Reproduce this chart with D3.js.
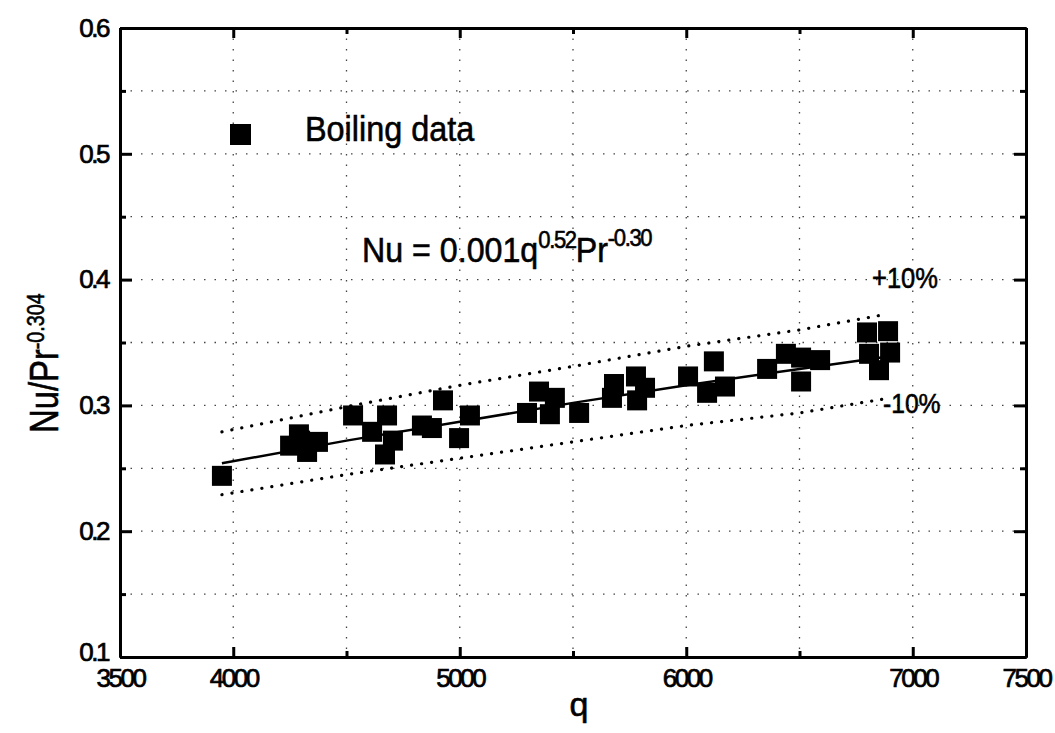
<!DOCTYPE html>
<meta charset="utf-8" />
<style>
  body { margin: 0; background: #fff; }
  text { font-family: "Liberation Sans", Arial, sans-serif; fill: #000; stroke: #000; stroke-width: 0.6px; }
  .tick text { font-size: 26px; letter-spacing: -2.5px; stroke-width: 0.7px; }
  .grid line { stroke: #444; stroke-width: 1.3; stroke-dasharray: 1.5 9; }
  .domain { stroke-width: 3; }
  .tick line { stroke-width: 3; }
</style>
<svg width="1055" height="733"></svg>
<script src="https://d3js.org/d3.v7.min.js"></script>
<script>
  // boiling data
  var qData = [3950, 4251, 4290, 4326, 4374, 4295, 4529, 4613, 4679, 4670,
    4705, 4833, 4926, 4877, 4997, 5045, 5297, 5350, 5398, 5420,
    5527, 5672, 5681, 5783, 5778, 5818, 6008, 6092, 6122, 6171,
    6357, 6440, 6507, 6507, 6591, 6798, 6891, 6807, 6851, 6900];
  var nuData = [0.244, 0.268, 0.277, 0.263, 0.271, 0.272, 0.292, 0.279, 0.292, 0.261,
    0.272, 0.284, 0.304, 0.282, 0.274, 0.292, 0.294, 0.311, 0.293, 0.306,
    0.294, 0.306, 0.317, 0.304, 0.323, 0.314, 0.323, 0.310, 0.335, 0.315,
    0.329, 0.341, 0.338, 0.319, 0.336, 0.358, 0.359, 0.341, 0.328, 0.342];

  // correlation line and the +/-10% band
  var fitQ = [3950, 4500, 5000, 5500, 6000, 6500, 6900];
  var fitV = [0.254, 0.272, 0.287, 0.302, 0.316, 0.329, 0.339];
  var bandQ = [3950, 4500, 5000, 5500, 6000, 6500, 6870];
  var upperV = [0.279, 0.299, 0.316, 0.331, 0.347, 0.360, 0.372];
  var lowerV = [0.229, 0.245, 0.258, 0.271, 0.284, 0.294, 0.305];

  var xMajor = [3500, 4000, 5000, 6000, 7000, 7500];
  var xMinor = [4500, 5500, 6500];
  var xGrid = [4000, 4500, 5000, 5500, 6000, 6500, 7000];
  var yMajor = [0.1, 0.2, 0.3, 0.4, 0.5, 0.6];
  var yMinor = [0.15, 0.25, 0.35, 0.45, 0.55];
  var yGrid = [0.15, 0.2, 0.25, 0.3, 0.35, 0.4, 0.45, 0.5, 0.55];

  var svg = d3.select("svg");
  var pl = 120, pr = 1026, pt = 28, pb = 657;

  var x = d3.scaleLinear().domain([3500, 7500]).range([pl, pr]);
  var y = d3.scaleLinear().domain([0.1, 0.6]).range([pb, pt]);

  // dotted grid
  var grid = svg.append("g").attr("class", "grid");
  grid.selectAll(".h").data(yGrid).join("line").attr("class", "h")
    .attr("x1", pl).attr("x2", pr)
    .attr("y1", d => y(d)).attr("y2", d => y(d));
  grid.selectAll(".v").data(xGrid).join("line").attr("class", "v")
    .attr("y1", pt).attr("y2", pb)
    .attr("x1", d => x(d)).attr("x2", d => x(d));

  // axes, ticks pointing in
  svg.append("g").attr("transform", "translate(0," + pb + ")")
    .call(d3.axisBottom(x).tickValues(xMajor).tickSize(-10).tickSizeOuter(0)
      .tickPadding(12).tickFormat(d3.format("d")));
  svg.append("g").attr("transform", "translate(0," + pb + ")")
    .call(d3.axisBottom(x).tickValues(xMinor).tickSize(-6).tickSizeOuter(0).tickFormat(""));
  svg.append("g").attr("transform", "translate(0," + pt + ")")
    .call(d3.axisTop(x).tickValues(xMajor).tickSize(-10).tickSizeOuter(0).tickFormat(""));
  svg.append("g").attr("transform", "translate(0," + pt + ")")
    .call(d3.axisTop(x).tickValues(xMinor).tickSize(-6).tickSizeOuter(0).tickFormat(""));
  var yAx = svg.append("g").attr("transform", "translate(" + pl + ",0)")
    .call(d3.axisLeft(y).tickValues(yMajor).tickSize(-12).tickSizeOuter(0)
      .tickPadding(12).tickFormat(d3.format(".1f")));
  // lowest label sits a little higher, clear of 3500
  yAx.selectAll(".tick text").filter(d => d === 0.1).attr("y", -5);
  svg.append("g").attr("transform", "translate(" + pl + ",0)")
    .call(d3.axisLeft(y).tickValues(yMinor).tickSize(-6).tickSizeOuter(0).tickFormat(""));
  svg.append("g").attr("transform", "translate(" + pr + ",0)")
    .call(d3.axisRight(y).tickValues(yMajor).tickSize(-12).tickSizeOuter(0).tickFormat(""));
  svg.append("g").attr("transform", "translate(" + pr + ",0)")
    .call(d3.axisRight(y).tickValues(yMinor).tickSize(-6).tickSizeOuter(0).tickFormat(""));
  svg.selectAll(".domain").attr("stroke-width", 3);

  // band and fit line
  var bandLine = d3.line().x(d => x(d[0])).y(d => y(d[1]));
  [upperV, lowerV].forEach(function(vals) {
    svg.append("path")
      .datum(d3.zip(bandQ, vals))
      .attr("d", bandLine)
      .attr("fill", "none").attr("stroke", "#000")
      .attr("stroke-width", 3.2).attr("stroke-linecap", "round")
      .attr("stroke-dasharray", "0.1 10");
  });
  svg.append("path")
    .datum(d3.zip(fitQ, fitV))
    .attr("d", bandLine)
    .attr("fill", "none").attr("stroke", "#000").attr("stroke-width", 2.5);

  // points
  var s = 20;
  svg.append("g").selectAll("rect").data(d3.zip(qData, nuData)).join("rect")
    .attr("x", d => x(d[0]) - s / 2).attr("y", d => y(d[1]) - s / 2)
    .attr("width", s).attr("height", s).attr("fill", "#000");

  // legend
  svg.append("rect").attr("x", 230).attr("y", 124).attr("width", 21).attr("height", 21);
  svg.append("text").attr("transform", "translate(305,141) scale(0.9,1)")
    .style("font-size", "36px").text("Boiling data");

  // correlation
  var eq = svg.append("text").attr("transform", "translate(362,262) scale(0.92,1)")
    .style("font-size", "35px");
  eq.append("tspan").text("Nu = 0.001q");
  eq.append("tspan").attr("dy", -14).style("font-size", "24px").style("letter-spacing", "-1.5px").text("0.52");
  eq.append("tspan").attr("dy", 14).text("Pr");
  eq.append("tspan").attr("dy", -16).style("font-size", "24px").style("letter-spacing", "-1.5px").text("-0.30");

  svg.append("text").attr("transform", "translate(872,288) scale(0.88,1)")
    .style("font-size", "29px").text("+10%");
  svg.append("text").attr("transform", "translate(883,413) scale(0.88,1)")
    .style("font-size", "28px").text("-10%");

  // axis titles
  svg.append("text").attr("x", 579).attr("y", 716).attr("text-anchor", "middle")
    .style("font-size", "34px").text("q");
  var yl = svg.append("text").attr("transform", "translate(58,433) rotate(-90) scale(0.82,1)")
    .style("font-size", "40px");
  yl.append("tspan").text("Nu/Pr");
  yl.append("tspan").attr("dy", -14).style("font-size", "24px").text("-0.304");
</script>
